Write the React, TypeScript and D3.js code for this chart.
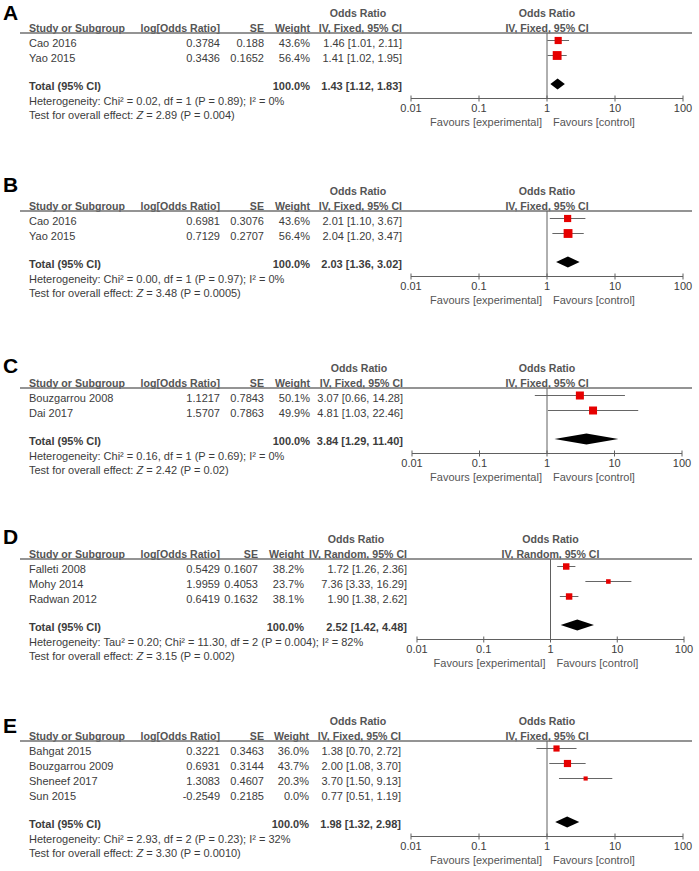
import * as d3 from "d3";

// one entry per panel
const panelLetters = ["A", "B", "C", "D", "E"];
const methods = [
  "IV, Fixed, 95% CI",
  "IV, Fixed, 95% CI",
  "IV, Fixed, 95% CI",
  "IV, Random, 95% CI",
  "IV, Fixed, 95% CI",
];
const studyNames = [
  ["Cao 2016", "Yao 2015"],
  ["Cao 2016", "Yao 2015"],
  ["Bouzgarrou 2008", "Dai 2017"],
  ["Falleti 2008", "Mohy 2014", "Radwan 2012"],
  ["Bahgat 2015", "Bouzgarrou 2009", "Sheneef 2017", "Sun 2015"],
];
const logOddsRatios = [
  ["0.3784", "0.3436"],
  ["0.6981", "0.7129"],
  ["1.1217", "1.5707"],
  ["0.5429", "1.9959", "0.6419"],
  ["0.3221", "0.6931", "1.3083", "-0.2549"],
];
const standardErrors = [
  ["0.188", "0.1652"],
  ["0.3076", "0.2707"],
  ["0.7843", "0.7863"],
  ["0.1607", "0.4053", "0.1632"],
  ["0.3463", "0.3144", "0.4607", "0.2185"],
];
const weights = [
  [43.6, 56.4],
  [43.6, 56.4],
  [50.1, 49.9],
  [38.2, 23.7, 38.1],
  [36.0, 43.7, 20.3, 0.0],
];
const oddsRatios = [
  [1.46, 1.41],
  [2.01, 2.04],
  [3.07, 4.81],
  [1.72, 7.36, 1.90],
  [1.38, 2.00, 3.70, 0.77],
];
const ciLower = [
  [1.01, 1.02],
  [1.10, 1.20],
  [0.66, 1.03],
  [1.26, 3.33, 1.38],
  [0.70, 1.08, 1.50, 0.51],
];
const ciUpper = [
  [2.11, 1.95],
  [3.67, 3.47],
  [14.28, 22.46],
  [2.36, 16.29, 2.62],
  [2.72, 3.70, 9.13, 1.19],
];
const totalOR = [1.43, 2.03, 3.84, 2.52, 1.98];
const totalLower = [1.12, 1.36, 1.29, 1.42, 1.32];
const totalUpper = [1.83, 3.02, 11.40, 4.48, 2.98];
const heterogeneity = [
  "Chi² = 0.02, df = 1 (P = 0.89); I² = 0%",
  "Chi² = 0.00, df = 1 (P = 0.97); I² = 0%",
  "Chi² = 0.16, df = 1 (P = 0.69); I² = 0%",
  "Tau² = 0.20; Chi² = 11.30, df = 2 (P = 0.004); I² = 82%",
  "Chi² = 2.93, df = 2 (P = 0.23); I² = 32%",
];
const overallZ = ["2.89", "3.48", "2.42", "3.15", "3.30"];
const overallP = ["0.004", "0.0005", "0.02", "0.002", "0.0010"];

const axisTicks = [0.01, 0.1, 1, 10, 100];
const tickLabels = ["0.01", "0.1", "1", "10", "100"];

// layout
const W = 699;
const H = 871;
const FONT = "'Liberation Sans', Arial, sans-serif";
const TEXT = "#3c3c3c";
const HEAD = "#555";
const headerLineY = [33, 211, 388, 559, 741];
const letterY = [13, 185, 366, 537, 726];
const plotRange = [
  [411, 683],
  [411, 683],
  [412, 682],
  [417, 684],
  [411, 683],
];
const colLog = [220, 220, 220, 220, 220];
const colSE = [264, 264, 264, 258, 264];
const colWt = [310, 310, 310, 304, 309];
const colOR = [402, 402, 403, 407, 401];
const orHeadCenter = [358, 358, 359, 356, 358];

const boxSize = d3.scaleLinear().domain([0, 60]).range([1.5, 9.3]);

function Panel({ p }: { p: number }) {
  const L = headerLineY[p];
  const n = studyNames[p].length;
  const x = d3.scaleLog().domain([0.01, 100]).range(plotRange[p]);
  const rowY = (i: number) => L + 10 + 15 * i;
  const totalY = L + 10 + 15 * n + 13;
  const axisY = totalY + 12.5;
  const x1 = x(1);

  const diamond = d3.line()([
    [x(totalLower[p]), totalY - 2],
    [x(totalOR[p]), totalY - 7.5],
    [x(totalUpper[p]), totalY - 2],
    [x(totalOR[p]), totalY + 3.5],
  ]) + "Z";

  const fmt = (v: number) => v.toFixed(2);

  return (
    <g fontFamily={FONT} fontSize={11} fill={TEXT}>
      <text x={3} y={letterY[p]} dy="0.35em" fontSize={21} fontWeight="bold" fill="#000">
        {panelLetters[p]}
      </text>

      {/* headers */}
      <g fontWeight="bold" fill={HEAD} fontSize={10.6}>
        <text x={orHeadCenter[p]} y={L - 20} dy="0.35em" textAnchor="middle">Odds Ratio</text>
        <text x={x1} y={L - 20} dy="0.35em" textAnchor="middle">Odds Ratio</text>
        <text x={29} y={L - 5} dy="0.35em">Study or Subgroup</text>
        <text x={colLog[p]} y={L - 5} dy="0.35em" textAnchor="end">log[Odds Ratio]</text>
        <text x={colSE[p]} y={L - 5} dy="0.35em" textAnchor="end">SE</text>
        <text x={colWt[p]} y={L - 5} dy="0.35em" textAnchor="end">Weight</text>
        <text x={colOR[p]} y={L - 5} dy="0.35em" textAnchor="end">{methods[p]}</text>
        <text x={x1} y={L - 5} dy="0.35em" textAnchor="middle">{methods[p]}</text>
      </g>
      <line x1={20} x2={692} y1={L} y2={L} stroke="#707070" strokeWidth={1.6} />

      {/* study rows */}
      {studyNames[p].map((name, i) => (
        <g key={name}>
          <text x={29} y={rowY(i)} dy="0.35em">{name}</text>
          <text x={colLog[p]} y={rowY(i)} dy="0.35em" textAnchor="end">{logOddsRatios[p][i]}</text>
          <text x={colSE[p]} y={rowY(i)} dy="0.35em" textAnchor="end">{standardErrors[p][i]}</text>
          <text x={colWt[p]} y={rowY(i)} dy="0.35em" textAnchor="end">{weights[p][i].toFixed(1)}%</text>
          <text x={colOR[p]} y={rowY(i)} dy="0.35em" textAnchor="end">
            {`${fmt(oddsRatios[p][i])} [${fmt(ciLower[p][i])}, ${fmt(ciUpper[p][i])}]`}
          </text>
        </g>
      ))}

      {/* total */}
      <g fontWeight="bold">
        <text x={29} y={totalY} dy="0.35em">Total (95% CI)</text>
        <text x={colWt[p]} y={totalY} dy="0.35em" textAnchor="end">100.0%</text>
        <text x={colOR[p]} y={totalY} dy="0.35em" textAnchor="end">
          {`${fmt(totalOR[p])} [${fmt(totalLower[p])}, ${fmt(totalUpper[p])}]`}
        </text>
      </g>
      <text x={29} y={totalY + 15} dy="0.35em">{"Heterogeneity: " + heterogeneity[p]}</text>
      <text x={29} y={totalY + 29} dy="0.35em">
        {"Test for overall effect: "}
        <tspan fontStyle="italic">Z</tspan>
        {` = ${overallZ[p]} (P = ${overallP[p]})`}
      </text>

      {/* plot */}
      <line x1={x1} x2={x1} y1={L} y2={axisY} stroke="#606060" strokeWidth={1} />
      {studyNames[p].map((name, i) => {
        const w = weights[p][i];
        if (w <= 0) return null;
        const cy = rowY(i) - 2.5;
        const s = boxSize(w);
        return (
          <g key={"m" + name}>
            <line x1={x(ciLower[p][i])} x2={x(ciUpper[p][i])} y1={cy} y2={cy} stroke="#666" strokeWidth={1} />
            <rect x={x(oddsRatios[p][i]) - s / 2} y={cy - s / 2} width={s} height={s} fill="#e60000" />
          </g>
        );
      })}
      <path d={diamond} fill="#000" />

      {/* axis */}
      <line x1={plotRange[p][0]} x2={plotRange[p][1]} y1={axisY} y2={axisY} stroke="#606060" strokeWidth={1} />
      {axisTicks.map((t, i) => (
        <g key={t}>
          <line x1={x(t)} x2={x(t)} y1={axisY - 3} y2={axisY + 3} stroke="#606060" strokeWidth={1} />
          <text x={x(t)} y={axisY + 10} dy="0.35em" textAnchor="middle">{tickLabels[i]}</text>
        </g>
      ))}
      <text x={x1 - 5} y={axisY + 24} dy="0.35em" textAnchor="end" fill="#555">Favours [experimental]</text>
      <text x={x1 + 6} y={axisY + 24} dy="0.35em" fill="#555">Favours [control]</text>
    </g>
  );
}

export default function App() {
  return (
    <svg
      width={W}
      height={H}
      viewBox={`0 0 ${W} ${H}`}
      style={{ position: "absolute", left: 0, top: 0, background: "#fff" }}
    >
      <rect width={W} height={H} fill="#fff" />
      {panelLetters.map((_, p) => (
        <Panel key={p} p={p} />
      ))}
    </svg>
  );
}
